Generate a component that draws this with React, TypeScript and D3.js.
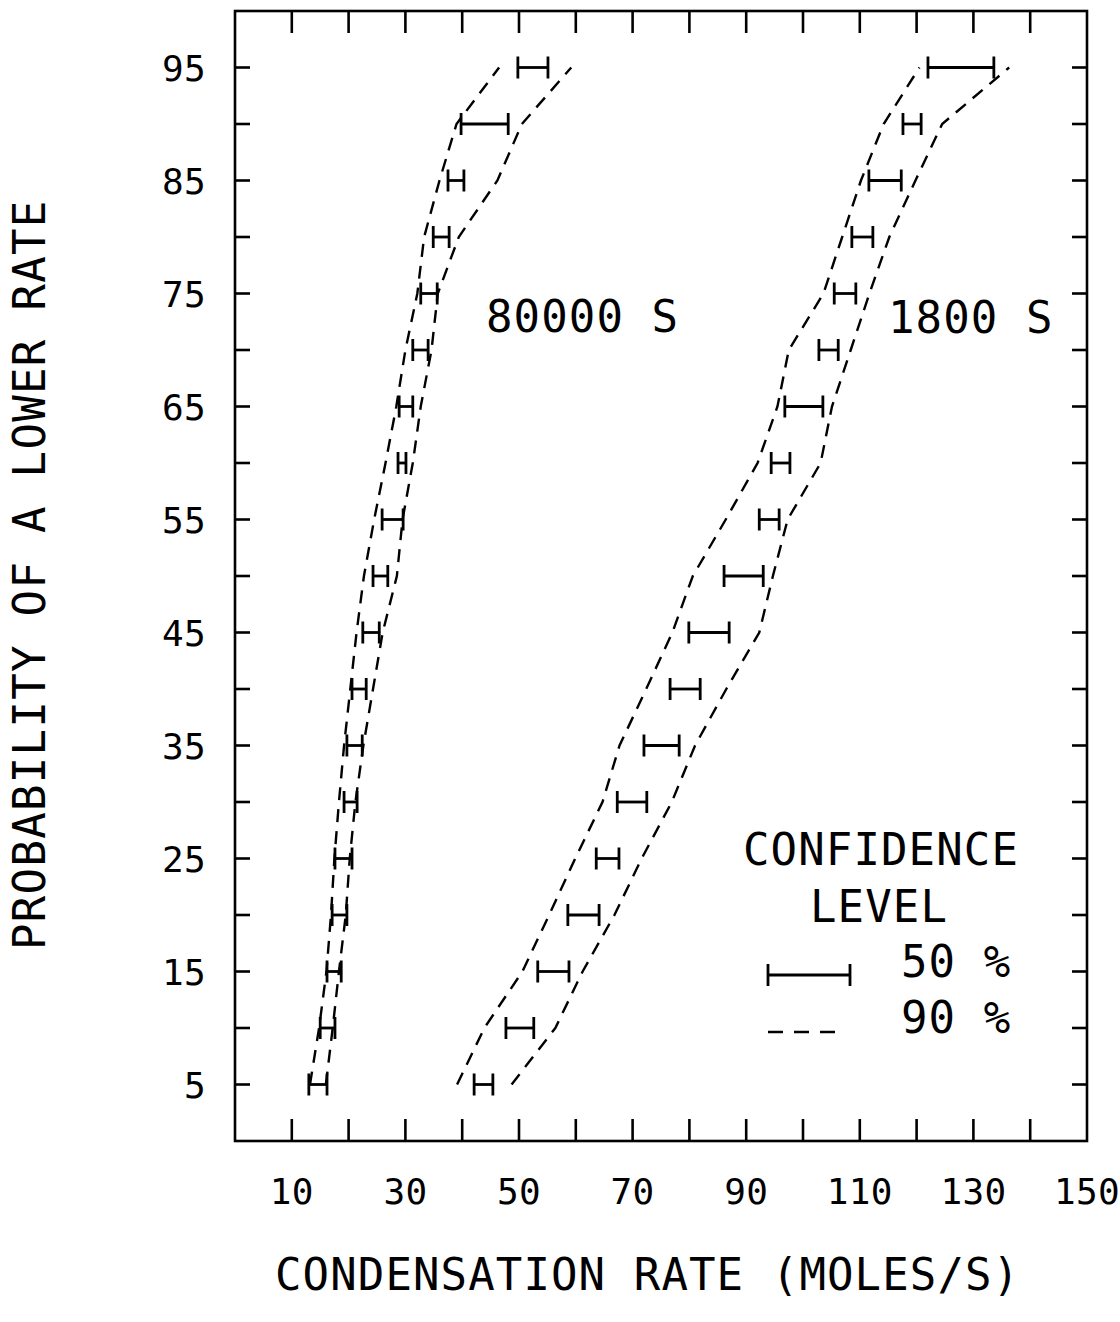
import React from "react";
import * as d3 from "d3";

// ---------- data ----------
const probLevels = [5, 10, 15, 20, 25, 30, 35, 40, 45, 50, 55, 60, 65, 70, 75, 80, 85, 90, 95];

// 80000 S : 50% confidence interval (low / high)
const s80000Lo50 = [13.0, 15.0, 16.2, 17.1, 17.6, 19.2, 19.7, 20.6, 22.5, 24.3, 25.9, 28.7, 28.9, 31.3, 32.7, 34.9, 37.5, 39.8, 49.8];
const s80000Hi50 = [16.2, 17.6, 18.7, 19.7, 20.6, 21.5, 22.4, 23.1, 25.4, 26.9, 29.6, 30.1, 31.3, 34.0, 35.6, 37.7, 40.3, 48.1, 55.1];
// 80000 S : 90% confidence bounds
const s80000Lo90 = [13.2, 14.8, 16.1, 16.9, 17.5, 18.3, 19.2, 20.3, 21.4, 22.7, 24.5, 26.5, 28.4, 30.0, 32.1, 33.3, 36.0, 39.0, 46.5];
const s80000Hi90 = [16.0, 17.2, 18.3, 19.5, 20.2, 21.2, 22.6, 24.3, 26.0, 28.5, 29.5, 31.3, 32.7, 34.6, 35.7, 39.4, 46.2, 50.5, 59.2];

// 1800 S : 50% confidence interval
const s1800Lo50 = [42.1, 47.7, 53.3, 58.6, 63.6, 67.3, 72.0, 76.6, 79.9, 86.1, 92.3, 94.4, 96.8, 102.8, 105.5, 108.6, 111.6, 117.6, 122.0];
const s1800Hi50 = [45.4, 52.6, 58.8, 64.1, 67.6, 72.5, 78.2, 81.9, 87.0, 93.0, 95.8, 97.7, 103.5, 106.2, 109.3, 112.3, 117.3, 120.8, 133.6];
// 1800 S : 90% confidence bounds
const s1800Lo90 = [39.1, 43.9, 50.6, 55.3, 59.9, 64.7, 67.7, 72.4, 77.0, 80.6, 86.4, 92.0, 95.5, 97.5, 103.6, 106.9, 110.2, 114.2, 120.5];
const s1800Hi90 = [48.7, 56.4, 61.2, 66.8, 71.6, 76.9, 81.0, 86.5, 92.3, 94.7, 97.3, 103.1, 105.1, 108.4, 111.7, 115.2, 119.8, 124.5, 136.3];

const xMinorTicks = [10, 20, 30, 40, 50, 60, 70, 80, 90, 100, 110, 120, 130, 140];
const xTickLabels = ["10", "30", "50", "70", "90", "110", "130", "150"];
const yTickLabels = ["5", "15", "25", "35", "45", "55", "65", "75", "85", "95"];

const seriesLabels = ["80000 S", "1800 S"];
const xTitle = "CONDENSATION RATE (MOLES/S)";
const yTitle = "PROBABILITY OF A LOWER RATE";
const legendTitle = ["CONFIDENCE", "LEVEL"];
const legendItems = ["50 %", "90 %"];

// ---------- layout ----------
const W = 1120;
const H = 1322;
const FONT = "'DejaVu Sans Mono', monospace";
const x = d3.scaleLinear().domain([0, 150]).range([235, 1087]);
const y = d3.scaleLinear().domain([0, 100]).range([1141, 11]);

const BIG = 44;
const BIG_CELL = 27.6;
const SMALL = 36;
const SMALL_CELL = 22;

function Mono(props: { text: string; x0: number; y0: number; cell: number; size: number }) {
  const { text, x0, y0, cell, size } = props;
  const xs = Array.from(text)
    .map((_, i) => (x0 + i * cell).toFixed(1))
    .join(" ");
  return (
    <text x={xs} y={y0} fontSize={size} fontFamily={FONT} fill="#000" style={{ whiteSpace: "pre" }}>
      {text}
    </text>
  );
}

function ErrorBars(props: { lo: number[]; hi: number[] }) {
  const { lo, hi } = props;
  const cap = 11;
  return (
    <g stroke="#000" strokeWidth={2.8} fill="none" strokeLinecap="butt">
      {probLevels.map((p, i) => {
        const yy = y(p);
        const x1 = x(lo[i]);
        const x2 = x(hi[i]);
        return (
          <g key={p}>
            <line x1={x1} x2={x2} y1={yy} y2={yy} />
            <line x1={x1} x2={x1} y1={yy - cap} y2={yy + cap} />
            <line x1={x2} x2={x2} y1={yy - cap} y2={yy + cap} />
          </g>
        );
      })}
    </g>
  );
}

function Bound(props: { vals: number[] }) {
  const line = d3
    .line<number>()
    .x((v) => x(v))
    .y((_, i) => y(probLevels[i]));
  return (
    <path d={line(props.vals) || ""} fill="none" stroke="#000" strokeWidth={2.4} strokeDasharray="13 9" />
  );
}

export default function App() {
  const x0 = x(0);
  const x1 = x(150);
  const yTop = y(100);
  const yBot = y(0);

  const yTitleChars = Array.from(yTitle);
  const yTitleStart = -950;
  const yTitleXs = yTitleChars.map((_, i) => (yTitleStart + i * 27.8).toFixed(1)).join(" ");

  return (
    <svg
      width={W}
      height={H}
      viewBox={`0 0 ${W} ${H}`}
      style={{ position: "absolute", left: 0, top: 0, background: "#fff" }}
    >
      <rect x={0} y={0} width={W} height={H} fill="#fff" />

      {/* frame */}
      <rect x={x0} y={yTop} width={x1 - x0} height={yBot - yTop} fill="none" stroke="#000" strokeWidth={2.6} />

      {/* ticks */}
      <g stroke="#000" strokeWidth={2.6}>
        {xMinorTicks.map((v) => (
          <g key={"xt" + v}>
            <line x1={x(v)} x2={x(v)} y1={yBot} y2={yBot - 22} />
            <line x1={x(v)} x2={x(v)} y1={yTop} y2={yTop + 22} />
          </g>
        ))}
        {probLevels.map((p) => (
          <g key={"yt" + p}>
            <line x1={x0} x2={x0 + 15} y1={y(p)} y2={y(p)} />
            <line x1={x1} x2={x1 - 15} y1={y(p)} y2={y(p)} />
          </g>
        ))}
      </g>

      {/* tick labels */}
      {xTickLabels.map((t) => {
        const v = +t;
        return <Mono key={"xl" + t} text={t} x0={x(v) - (t.length * SMALL_CELL) / 2} y0={1204} cell={SMALL_CELL} size={SMALL} />;
      })}
      {yTickLabels.map((t) => {
        const v = +t;
        return <Mono key={"yl" + t} text={t} x0={206 - t.length * SMALL_CELL} y0={y(v) + 13} cell={SMALL_CELL} size={SMALL} />;
      })}

      {/* axis titles */}
      <Mono text={xTitle} x0={275} y0={1290} cell={BIG_CELL} size={BIG} />
      <text
        transform="rotate(-90)"
        x={yTitleXs}
        y={45}
        fontSize={BIG}
        fontFamily={FONT}
        fill="#000"
        style={{ whiteSpace: "pre" }}
      >
        {yTitle}
      </text>

      {/* 90% bounds */}
      <Bound vals={s80000Lo90} />
      <Bound vals={s80000Hi90} />
      <Bound vals={s1800Lo90} />
      <Bound vals={s1800Hi90} />

      {/* 50% intervals */}
      <ErrorBars lo={s80000Lo50} hi={s80000Hi50} />
      <ErrorBars lo={s1800Lo50} hi={s1800Hi50} />

      {/* series labels */}
      <Mono text={seriesLabels[0]} x0={486} y0={332} cell={BIG_CELL} size={BIG} />
      <Mono text={seriesLabels[1]} x0={888} y0={333} cell={BIG_CELL} size={BIG} />

      {/* legend */}
      <Mono text={legendTitle[0]} x0={743} y0={865} cell={BIG_CELL} size={BIG} />
      <Mono text={legendTitle[1]} x0={810} y0={922} cell={BIG_CELL} size={BIG} />
      <g stroke="#000" strokeWidth={2.8}>
        <line x1={768} x2={850} y1={975} y2={975} />
        <line x1={768} x2={768} y1={964} y2={986} />
        <line x1={850} x2={850} y1={964} y2={986} />
        <line x1={768} x2={836} y1={1032} y2={1032} strokeDasharray="15 11" strokeWidth={2.4} />
      </g>
      <Mono text={legendItems[0]} x0={901} y0={977} cell={BIG_CELL} size={BIG} />
      <Mono text={legendItems[1]} x0={901} y0={1033} cell={BIG_CELL} size={BIG} />
    </svg>
  );
}
